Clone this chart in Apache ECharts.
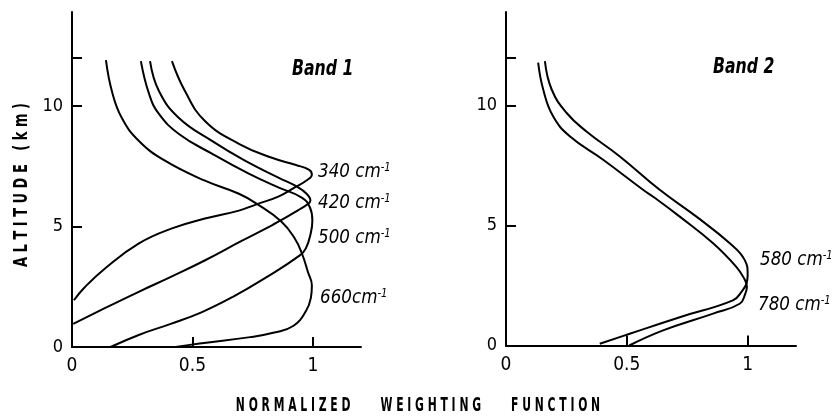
<!DOCTYPE html>
<html><head><meta charset="utf-8">
<script src="https://cdn.jsdelivr.net/npm/echarts@6/dist/echarts.min.js"></script>
<style>html,body{margin:0;padding:0;background:#fff}#c{width:834px;height:420px}</style>
</head><body><div id="c"></div>
<script>
// ---- data (normalized weighting, altitude km) ----
const xTickLabels = [0, 0.5, 1];
const yTickLabels = [0, 5, 10];
const yTickMarks = [0, 5, 10, 12];
const band1Labels = ['340', '420', '500', '660'];
const band2Labels = ['580', '780'];
const s340 = [[0.415,11.86],[0.469,10.62],[0.552,9.38],[0.693,8.43],[0.830,7.85],[0.930,7.55],[0.985,7.35],[0.996,7.15],[0.975,6.92],[0.930,6.65],[0.859,6.25],[0.766,5.92],[0.693,5.66],[0.552,5.33],[0.415,4.92],[0.278,4.30],[0.137,3.26],[0.05,2.45],[0.008,1.94]];
const s420 = [[0.324,11.86],[0.361,10.62],[0.444,9.50],[0.581,8.55],[0.718,7.73],[0.859,7.02],[0.935,6.65],[0.975,6.35],[0.99,6.08],[0.975,5.9],[0.94,5.68],[0.86,5.22],[0.83,5.05],[0.70,4.38],[0.553,3.60],[0.415,2.93],[0.277,2.29],[0.14,1.63],[0.005,0.96]];
const s500 = [[0.286,11.86],[0.320,10.50],[0.361,9.67],[0.444,8.84],[0.581,8.02],[0.734,7.19],[0.859,6.61],[0.954,6.20],[0.988,5.79],[0.998,5.25],[0.992,4.75],[0.971,4.09],[0.946,3.80],[0.808,2.90],[0.668,2.08],[0.54,1.45],[0.407,0.95],[0.277,0.50],[0.16,0]];
const s660 = [[0.141,11.9],[0.166,10.6],[0.207,9.5],[0.278,8.55],[0.386,7.73],[0.552,6.9],[0.693,6.36],[0.766,5.95],[0.87,5.2],[0.925,4.5],[0.954,3.9],[0.98,3.1],[0.996,2.55],[0.992,2.05],[0.972,1.5],[0.92,0.88],[0.84,0.6],[0.74,0.41],[0.53,0.15],[0.43,0]];
const s580 = [[0.161,11.85],[0.189,10.67],[0.251,9.69],[0.333,8.92],[0.471,7.88],[0.636,6.49],[0.788,5.37],[0.926,4.26],[0.988,3.56],[1.0,2.95],[0.995,2.58],[0.975,2.25],[0.939,1.88],[0.719,1.18],[0.512,0.49],[0.388,0.07]];
const s780 = [[0.133,11.79],[0.154,10.67],[0.195,9.55],[0.264,8.72],[0.402,7.74],[0.567,6.49],[0.609,6.2],[0.719,5.37],[0.857,4.26],[0.953,3.28],[0.985,2.8],[0.997,2.45],[0.99,2.15],[0.967,1.74],[0.857,1.33],[0.650,0.63],[0.51,0]];

const FONT = "'Liberation Sans Narrow','DejaVu Sans Condensed','DejaVu Sans',sans-serif";
const BLACK = '#000';

function xAx(g) {
  return {
    gridIndex: g, type: 'value', min: 0, max: 1.2,
    axisLine: { show: true, onZero: false, lineStyle: { color: BLACK, width: 2 } },
    axisTick: { show: true, inside: true, length: 10, lineStyle: { color: BLACK, width: 2 }, customValues: [0.5, 1] },
    axisLabel: { customValues: xTickLabels, color: BLACK, fontSize: 19, fontFamily: FONT, margin: 10 },
    splitLine: { show: false }
  };
}
function yAx(g) {
  return {
    gridIndex: g, type: 'value', min: 0, max: 13.9,
    axisLine: { show: true, onZero: false, lineStyle: { color: BLACK, width: 2 } },
    axisTick: { show: true, inside: true, length: 10, lineStyle: { color: BLACK, width: 2 }, customValues: yTickMarks },
    axisLabel: { customValues: yTickLabels, color: BLACK, fontSize: 18, fontFamily: FONT, margin: 9 },
    splitLine: { show: false }
  };
}
function line(data, g) {
  return { type: 'line', xAxisIndex: g, yAxisIndex: g, data: data, smooth: 0.45, symbol: 'none',
    lineStyle: { color: BLACK, width: 2 }, silent: true };
}
const curveRich = {
  n: { fontSize: 20, fontStyle: 'italic', fontFamily: FONT, color: BLACK },
  s: { fontSize: 12, fontStyle: 'italic', fontFamily: FONT, color: BLACK, verticalAlign: 'top' }
};
function lab(name, sep, x, y) {
  return { type: 'text', x: x, y: y, scaleX: 0.93,
    style: { text: '{n|' + name + sep + 'cm}{s|-1}', rich: curveRich, verticalAlign: 'middle', align: 'left' } };
}
function spaced(words, gap) {
  return words.map(w => w.split('').join(' ')).join(' '.repeat(gap));
}

const chart = echarts.init(document.getElementById('c'));
chart.setOption({
  animation: false,
  backgroundColor: '#fff',
  grid: [
    { left: 72, top: 12, width: 289, height: 335 },
    { left: 506, top: 12, width: 290, height: 333.5 }
  ],
  xAxis: [xAx(0), xAx(1)],
  yAxis: [yAx(0), yAx(1)],
  series: [line(s340, 0), line(s420, 0), line(s500, 0), line(s660, 0), line(s580, 1), line(s780, 1)],
  graphic: [
    lab(band1Labels[0], ' ', 318, 172),
    lab(band1Labels[1], ' ', 318, 203),
    lab(band1Labels[2], ' ', 318, 238),
    lab(band1Labels[3], '', 320, 298),
    lab(band2Labels[0], ' ', 760, 260),
    lab(band2Labels[1], ' ', 758, 305),
    { type: 'text', x: 292, y: 70, scaleX: 0.83, style: { text: 'Band 1', fontSize: 21, fontStyle: 'italic', fontWeight: 'bold', fontFamily: FONT, fill: BLACK, verticalAlign: 'middle' } },
    { type: 'text', x: 713, y: 68, scaleX: 0.83, style: { text: 'Band 2', fontSize: 21, fontStyle: 'italic', fontWeight: 'bold', fontFamily: FONT, fill: BLACK, verticalAlign: 'middle' } },
    { type: 'text', x: 22, y: 185, rotation: Math.PI / 2, scaleX: 0.76, style: { text: spaced(['ALTITUDE', '(km)'], 3), fontSize: 19, fontWeight: 'bold', fontFamily: FONT, fill: BLACK, align: 'center', verticalAlign: 'middle' } },
    { type: 'text', x: 418, y: 406, scaleX: 0.632, style: { text: spaced(['NORMALIZED', 'WEIGHTING', 'FUNCTION'], 8), fontSize: 19, fontWeight: 'bold', fontFamily: FONT, fill: BLACK, align: 'center', verticalAlign: 'middle' } }
  ]
});
</script></body></html>
